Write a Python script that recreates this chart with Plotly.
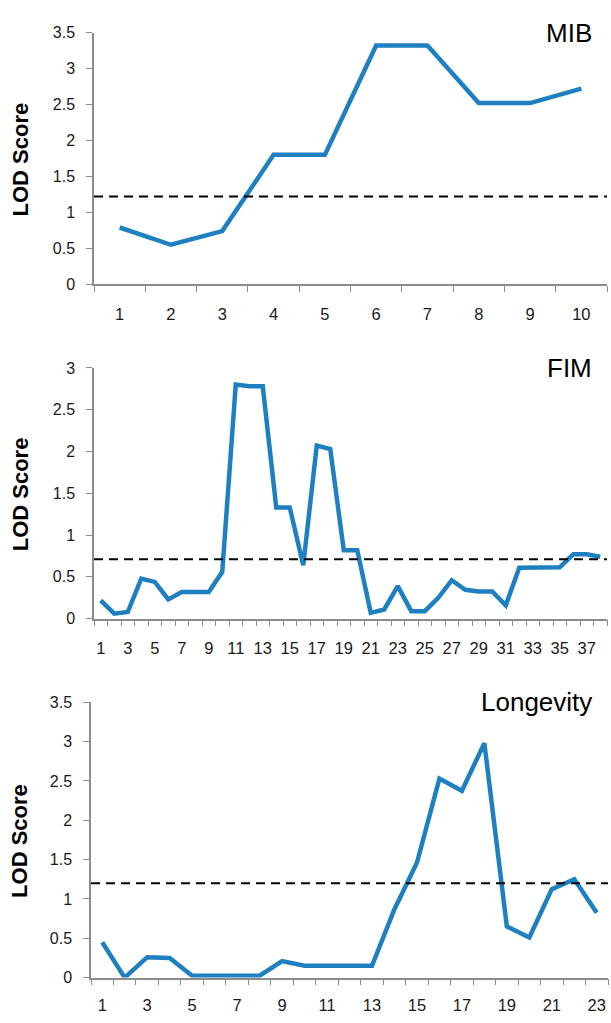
import plotly.graph_objects as go

# ---- data ----
mib_x = [str(i) for i in range(1, 11)]
mib_y = [0.79, 0.55, 0.74, 1.80, 1.80, 3.32, 3.32, 2.52, 2.52, 2.72]
mib_thr = 1.22

fim_x = [str(i) for i in range(1, 39)]
fim_y = [0.22, 0.06, 0.08, 0.48, 0.44, 0.23, 0.32, 0.32, 0.32, 0.56,
         2.80, 2.78, 2.78, 1.33, 1.33, 0.64, 2.07, 2.03, 0.82, 0.82,
         0.07, 0.11, 0.39, 0.09, 0.09, 0.25, 0.46, 0.345, 0.325, 0.325,
         0.16, 0.61, 0.61, 0.61, 0.615, 0.77, 0.77, 0.74]
fim_thr = 0.71

lon_x = [str(i) for i in range(1, 24)]
lon_y = [0.45, 0.0, 0.26, 0.25, 0.025, 0.025, 0.025, 0.025, 0.21, 0.15,
         0.15, 0.15, 0.15, 0.87, 1.46, 2.53, 2.375, 2.98, 0.65, 0.51,
         1.125, 1.25, 0.825]
lon_thr = 1.20

titles = ["MIB", "FIM", "Longevity"]
yranges = [[0, 3.5], [0, 3.0], [0, 3.5]]

W, H = 611, 1023
BLUE = "#1f80c1"
AX = "#8c8c8c"
FONT = "Liberation Sans, Arial, sans-serif"

def py(px):
    return (H - px) / H

def pxx(px):
    return px / W

panels = [
    dict(x=mib_x, y=mib_y, thr=mib_thr, top=25, bot=281, left=94, right=607, every=1, stand=14),
    dict(x=fim_x, y=fim_y, thr=fim_thr, top=366, bot=621, left=94, right=607, every=2, stand=14),
    dict(x=lon_x, y=lon_y, thr=lon_thr, top=706, bot=986, left=91, right=608, every=2, stand=12),
]

fig = go.Figure()
annotations = []
shapes = []
for i, p in enumerate(panels):
    n = i + 1
    xa = "x" if n == 1 else f"x{n}"
    ya = "y" if n == 1 else f"y{n}"
    fig.add_trace(go.Scatter(x=p["x"], y=p["y"], mode="lines",
                             line=dict(color=BLUE, width=4.5),
                             xaxis=xa, yaxis=ya, showlegend=False))
    ticktext = [c if (k % p["every"] == 0) else "" for k, c in enumerate(p["x"])]
    xkey = "xaxis" if n == 1 else f"xaxis{n}"
    ykey = "yaxis" if n == 1 else f"yaxis{n}"
    N = len(p["x"])
    fig.update_layout({
        xkey: dict(domain=[pxx(p["left"]), pxx(p["right"])], anchor=ya,
                   type="category", tickson="boundaries",
                   range=[-0.5, N - 0.5],
                   tickmode="array", tickvals=p["x"], ticktext=ticktext,
                   tickangle=0,
                   ticks="outside", ticklen=6, tickcolor=AX, tickwidth=1.3,
                   showline=True, linecolor=AX, linewidth=1.5,
                   showgrid=False, zeroline=False,
                   tickfont=dict(family=FONT, size=16.5, color="#1a1a1a"),
                   ticklabelstandoff=p["stand"], fixedrange=True),
        ykey: dict(domain=[py(p["bot"]), py(p["top"])], anchor=xa,
                   range=yranges[i], dtick=0.5,
                   ticks="outside", ticklen=6, tickcolor=AX, tickwidth=1.3,
                   showline=True, linecolor=AX, linewidth=1.5,
                   showgrid=False, zeroline=False,
                   tickfont=dict(family=FONT, size=16, color="#1a1a1a"),
                   ticklabelstandoff=8, fixedrange=True),
    })
    shapes.append(dict(type="line", xref=f"{xa} domain", yref=ya,
                       x0=0, x1=1, y0=p["thr"], y1=p["thr"],
                       line=dict(color="black", width=2, dash="9px,6px")))
    annotations.append(dict(text=titles[i], xref="paper", yref="paper",
                            x=pxx(594), y=py(p["top"]), xanchor="right",
                            yanchor="middle", showarrow=False,
                            font=dict(family=FONT, size=26, color="black")))
    annotations.append(dict(text="<b>LOD Score</b>", xref="paper", yref="paper",
                            x=pxx(20), y=py((p["top"] + p["bot"]) / 2 + 1),
                            xanchor="center", yanchor="middle", textangle=-90,
                            showarrow=False,
                            font=dict(family=FONT, size=22, color="black")))

fig.update_layout(width=W, height=H, margin=dict(l=0, r=0, t=0, b=0),
                  plot_bgcolor="white", paper_bgcolor="white",
                  shapes=shapes, annotations=annotations)

fig.write_html("out.html",
               config={"displayModeBar": False},
               post_script="document.body.style.margin='0';document.body.style.overflow='hidden';")
